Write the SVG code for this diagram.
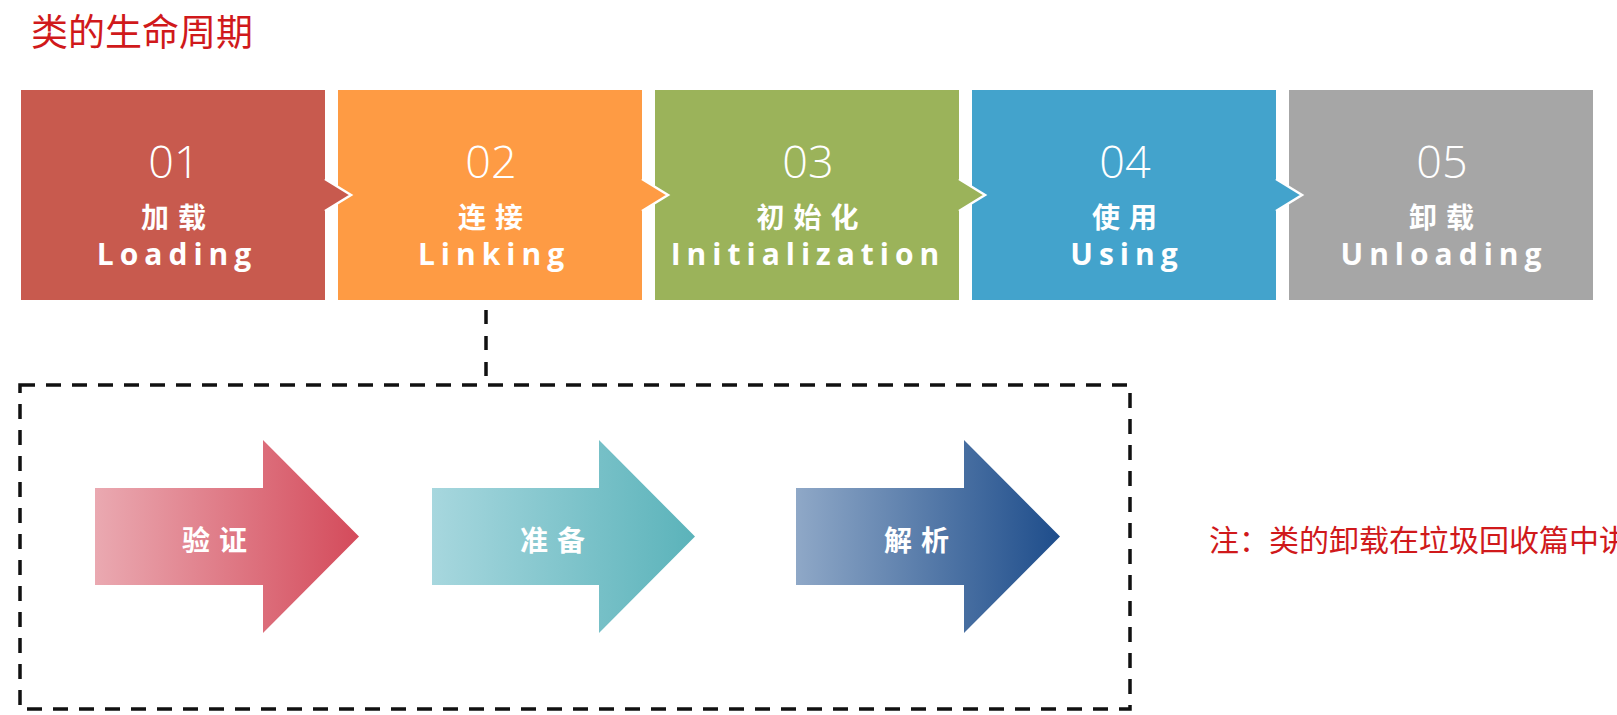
<svg xmlns="http://www.w3.org/2000/svg" width="1617" height="715" viewBox="0 0 1617 715">
  <defs>
    <style>
      .title { font-family: "Noto Sans CJK SC", "Noto Sans", sans-serif; font-size: 37px; fill: #d0191b; }
      .note { font-family: "Noto Sans CJK SC", "Noto Sans", sans-serif; font-size: 30px; fill: #d0191b; }
      .num { font-family: "Open Sans", "Noto Sans", sans-serif; font-weight: 300; font-size: 45px; fill: #ffffff; text-anchor: middle; }
      .cn { font-family: "Noto Sans CJK SC", sans-serif; font-weight: 700; font-size: 28px; fill: #ffffff; text-anchor: middle; letter-spacing: 9px; }
      .en { font-family: "Open Sans", "Noto Sans", sans-serif; font-weight: 700; font-size: 30px; fill: #ffffff; text-anchor: middle; letter-spacing: 6px; }
      .edge { fill: none; stroke: #ffffff; stroke-width: 2.5; stroke-linejoin: miter; }
      .dash { fill: none; stroke: #111111; stroke-width: 3.5; }
    </style>
    <linearGradient id="g1" x1="0" y1="0" x2="1" y2="0">
      <stop offset="0" stop-color="#eaa9b1"/>
      <stop offset="1" stop-color="#d44b5b"/>
    </linearGradient>
    <linearGradient id="g2" x1="0" y1="0" x2="1" y2="0">
      <stop offset="0" stop-color="#a7d7de"/>
      <stop offset="1" stop-color="#5bb3ba"/>
    </linearGradient>
    <linearGradient id="g3" x1="0" y1="0" x2="1" y2="0">
      <stop offset="0" stop-color="#8fa8c7"/>
      <stop offset="1" stop-color="#1e4d8b"/>
    </linearGradient>
  </defs>

  <rect x="0" y="0" width="1617" height="715" fill="#ffffff"/>

  <text class="title" x="31" y="46">类的生命周期</text>

  <!-- top row boxes -->
  <g id="loading">
    <rect x="21" y="90" width="304" height="210" fill="#c85a4e"/>
  </g>
  <g id="linking">
    <rect x="338" y="90" width="304" height="210" fill="#fe9b44"/>
  </g>
  <g id="initialization">
    <rect x="655" y="90" width="304" height="210" fill="#9bb35a"/>
  </g>
  <g id="using">
    <rect x="972" y="90" width="304" height="210" fill="#43a3cc"/>
  </g>
  <g id="unloading">
    <rect x="1289" y="90" width="304" height="210" fill="#a6a6a6"/>
  </g>

  <!-- chevron tips of the boxes -->
  <g id="chevrons">
    <polygon points="324,179 351,195 324,211" fill="#c85a4e"/>
    <polyline class="edge" points="325,179 351,195 325,211"/>
    <polygon points="641,179 668,195 641,211" fill="#fe9b44"/>
    <polyline class="edge" points="642,179 668,195 642,211"/>
    <polygon points="958,179 985,195 958,211" fill="#9bb35a"/>
    <polyline class="edge" points="959,179 985,195 959,211"/>
    <polygon points="1275,179 1302,195 1275,211" fill="#43a3cc"/>
    <polyline class="edge" points="1276,179 1302,195 1276,211"/>
  </g>

  <g id="labels">
    <text class="num" x="174" y="178">01</text>
    <text class="cn" x="178" y="228">加载</text>
    <text class="en" x="177" y="265">Loading</text>

    <text class="num" x="491" y="178">02</text>
    <text class="cn" x="495" y="228">连接</text>
    <text class="en" x="494" y="265">Linking</text>

    <text class="num" x="808" y="178">03</text>
    <text class="cn" x="812" y="228">初始化</text>
    <text class="en" x="808" y="265">Initialization</text>

    <text class="num" x="1125" y="178">04</text>
    <text class="cn" x="1129" y="228">使用</text>
    <text class="en" x="1127" y="265">Using</text>

    <text class="num" x="1442" y="178">05</text>
    <text class="cn" x="1446" y="228">卸载</text>
    <text class="en" x="1444" y="265">Unloading</text>
  </g>

  <!-- connectors -->
  <g id="connectors">
    <line class="dash" x1="486" y1="310" x2="486" y2="384" stroke-dasharray="14 12"/>
  </g>

  <!-- dashed container -->
  <g id="linking-detail">
    <rect class="dash" x="20" y="385" width="1110" height="324" stroke-dasharray="15 11"/>
  </g>

  <g id="verify">
    <polygon points="95,488 263,488 263,440 359,536.5 263,633 263,585 95,585" fill="url(#g1)"/>
    <text class="cn" x="219" y="551">验证</text>
  </g>
  <g id="prepare">
    <polygon points="432,488 599,488 599,440 695,536.5 599,633 599,585 432,585" fill="url(#g2)"/>
    <text class="cn" x="557" y="551">准备</text>
  </g>
  <g id="resolve">
    <polygon points="796,488 964,488 964,440 1060,536.5 964,633 964,585 796,585" fill="url(#g3)"/>
    <text class="cn" x="921" y="551">解析</text>
  </g>

  <text class="note" x="1209" y="551">注：类的卸载在垃圾回收篇中讲</text>
</svg>
